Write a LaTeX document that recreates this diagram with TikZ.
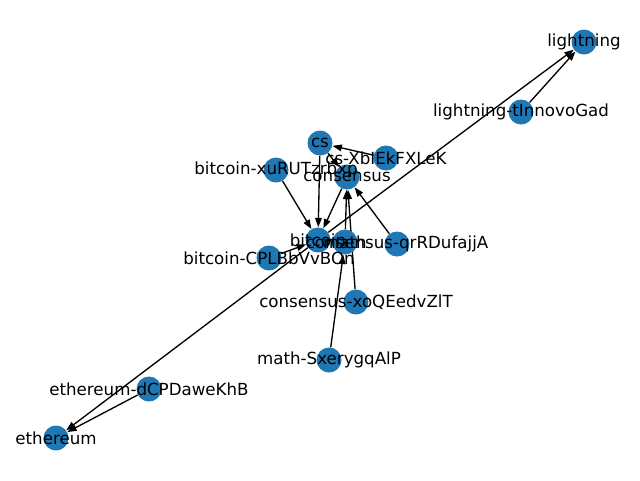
\documentclass[tikz,border=0pt]{standalone}
\usepackage{fontspec}
\setmainfont{DejaVu Sans}
\usetikzlibrary{arrows.meta,backgrounds}
\definecolor{nodeblue}{HTML}{1F77B4}
\begin{document}
\begin{tikzpicture}[x=0.75pt,y=-0.75pt,
  vert/.style={circle,fill=nodeblue,minimum size=18.75pt,inner sep=0pt},
  lbl/.style={font=\fontsize{12.5}{15}\selectfont,inner sep=0pt,text=black},
  edge/.style={draw=black,line width=1pt,-{Triangle[length=7pt,width=5pt]}}]
\useasboundingbox (0,0) rectangle (640,480);
% vertices
\node[vert] (lightning) at (584,42) {};
\node[vert] (lightningT) at (521,112) {};
\node[vert] (cs) at (320,143) {};
\node[vert] (csX) at (386,158) {};
\node[vert] (bitcoinX) at (276,170) {};
\node[vert] (consensus) at (347,177) {};
\node[vert] (bitcoin) at (318,240) {};
\node[vert] (math) at (345,242) {};
\node[vert] (bitcoinC) at (269,258) {};
\node[vert] (consensusQ) at (397,244) {};
\node[vert] (consensusX) at (356,302) {};
\node[vert] (mathS) at (329,360) {};
\node[vert] (ethereumD) at (149,389) {};
\node[vert] (ethereum) at (56,438) {};
% edges
\begin{scope}[on background layer]
\draw[edge] (lightningT) -- (lightning);
\draw[edge] (bitcoin) -- (lightning);
\draw[edge] (bitcoin) -- (ethereum);
\draw[edge] (bitcoinC) -- (bitcoin);
\draw[edge] (ethereumD) -- (ethereum);
\draw[edge] (csX) -- (cs);
\draw[edge] (cs) -- (consensus);
\draw[edge] (cs) -- (bitcoin);
\draw[edge] (bitcoinX) -- (bitcoin);
\draw[edge] (consensus) -- (bitcoin);
\draw[edge] (math) -- (consensus);
\draw[edge] (consensusX) -- (consensus);
\draw[edge] (consensusQ) -- (consensus);
\draw[edge] (mathS) -- (math);
\end{scope}
% labels
\node[lbl] (l1) at (lightning) {lightning};
\node[lbl] (l2) at (lightningT) {lightning-tInnovoGad};
\node[lbl] (l3) at (cs) {cs};
\node[lbl] (l4) at (csX) {cs-XbIEkFXLeK};
\node[lbl] (l5) at (bitcoinX) {bitcoin-xuRUTzrbxp};
\node[lbl] (l6) at (consensus) {consensus};
\node[lbl] (l7) at (bitcoin) {bitcoin};
\node[lbl] (l8) at (math) {math};
\node[lbl] (l9) at (bitcoinC) {bitcoin-CPLBbVvBOn};
\node[lbl] (l10) at (consensusQ) {consensus-qrRDufajjA};
\node[lbl] (l11) at (consensusX) {consensus-xoQEedvZlT};
\node[lbl] (l12) at (mathS) {math-SxerygqAlP};
\node[lbl] (l13) at (ethereumD) {ethereum-dCPDaweKhB};
\node[lbl] (l14) at (ethereum) {ethereum};
\end{tikzpicture}
\end{document}
